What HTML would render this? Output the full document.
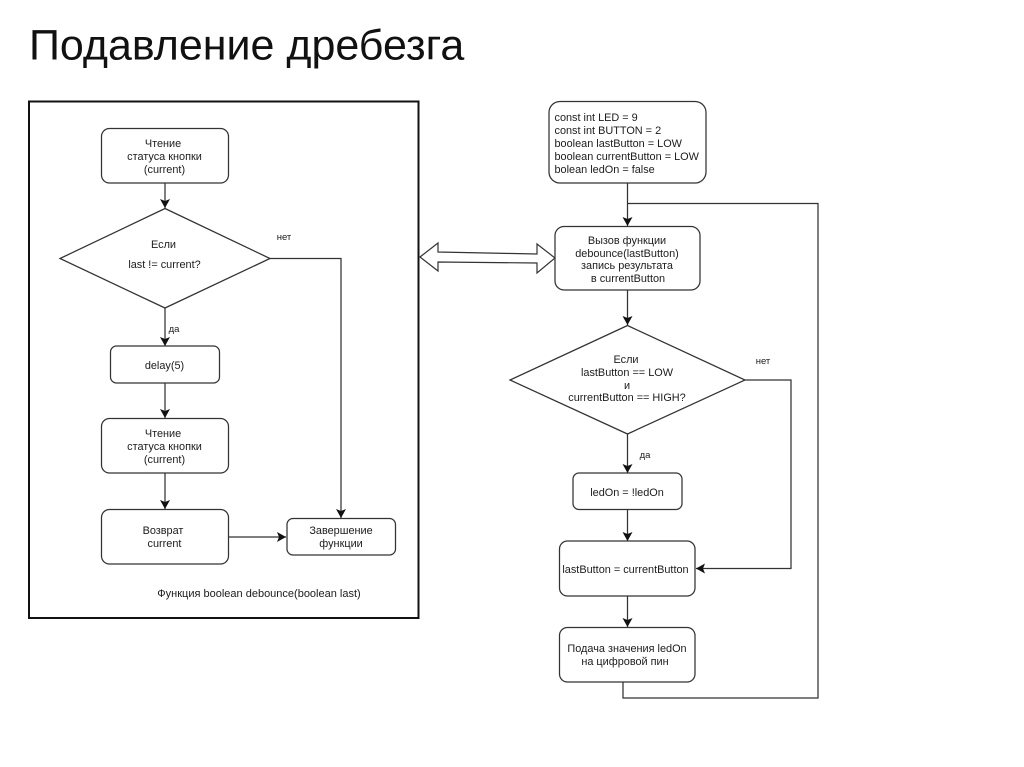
<!DOCTYPE html>
<html><head><meta charset="utf-8"><style>
html,body{margin:0;padding:0;background:#fff}
svg{display:block;filter:blur(0.35px)}
text{font-family:"Liberation Sans",sans-serif;font-size:10.9px;fill:#1c1c1c;text-anchor:middle}
.s{fill:#fff;stroke:#333;stroke-width:1.25}
.l{fill:none;stroke:#333;stroke-width:1.25}
</style></head><body>
<svg width="1024" height="767" viewBox="0 0 1024 767" xmlns="http://www.w3.org/2000/svg">
<defs><marker id="m" markerUnits="userSpaceOnUse" markerWidth="10" markerHeight="11" refX="9" refY="5.5" orient="auto"><path d="M0 0.500L9 5.500L0 10.500L2 5.500Z" fill="#111"/></marker></defs>
<rect width="1024" height="767" fill="#fff"/>
<text x="29" y="59.500" style="font-size:43px;text-anchor:start;fill:#111">Подавление дребезга</text>
<rect x="29" y="101.500" width="389.500" height="516.500" fill="#fff" stroke="#111" stroke-width="2"/>

<g class="conns">
<path class="l" marker-end="url(#m)" d="M165 183V208"/>
<path class="l" marker-end="url(#m)" d="M165 308V346"/>
<path class="l" marker-end="url(#m)" d="M165 383V418"/>
<path class="l" marker-end="url(#m)" d="M165 473V509"/>
<path class="l" marker-end="url(#m)" d="M229 537H286"/>
<path class="l" marker-end="url(#m)" d="M270 258.500H341V518"/>
<path class="l" marker-end="url(#m)" d="M627.500 183V226"/>
<path class="l" marker-end="url(#m)" d="M627.500 290V325"/>
<path class="l" marker-end="url(#m)" d="M627.500 434V473"/>
<path class="l" marker-end="url(#m)" d="M627.500 509.500V541"/>
<path class="l" marker-end="url(#m)" d="M627.500 596V627"/>
<path class="l" marker-end="url(#m)" d="M745 380H791V568.500H696"/>
<path class="l" d="M623 682V698H818V203.500H627.500"/>
</g>

<rect class="s" x="101.500" y="128.500" width="127" height="54.500" rx="8"/>
<text x="163" y="147">Чтение</text><text x="164.500" y="160">статуса кнопки</text><text x="164.500" y="173">(current)</text>
<path class="s" d="M165 208.500L270 258.500L165 308L60 258.500Z"/>
<text x="163.500" y="248">Если</text><text x="164.500" y="268">last != current?</text>
<text x="284" y="240" style="font-size:9.500px">нет</text>
<text x="174" y="332" style="font-size:9.500px">да</text>
<rect class="s" x="110.500" y="346" width="109" height="37" rx="6"/>
<text x="164.500" y="369">delay(5)</text>
<rect class="s" x="101.500" y="418.500" width="127" height="54.500" rx="8"/>
<text x="163" y="437">Чтение</text><text x="164.500" y="450">статуса кнопки</text><text x="164.500" y="463">(current)</text>
<rect class="s" x="101.500" y="509.500" width="127" height="54.500" rx="8"/>
<text x="163" y="534">Возврат</text><text x="164.500" y="547">current</text>
<rect class="s" x="287" y="518.500" width="108.500" height="36.500" rx="6"/>
<text x="341" y="534">Завершение</text><text x="341" y="547">функции</text>
<text x="259" y="597" style="font-size:11px">Функция boolean debounce(boolean last)</text>

<path d="M420 257L438 243V252L537 254V244L555 258L537 273V263L438 262V271Z" fill="#fff" stroke="#333" stroke-width="1.200"/>

<rect class="s" x="549" y="101.500" width="157" height="81.500" rx="11"/>
<text x="554.500" y="121" style="text-anchor:start">const int LED = 9</text>
<text x="554.500" y="134" style="text-anchor:start">const int BUTTON = 2</text>
<text x="554.500" y="147" style="text-anchor:start">boolean lastButton = LOW</text>
<text x="554.500" y="160" style="text-anchor:start">boolean currentButton = LOW</text>
<text x="554.500" y="173" style="text-anchor:start">bolean ledOn = false</text>
<rect class="s" x="555" y="226.500" width="145" height="63.500" rx="9"/>
<text x="627" y="244">Вызов функции</text><text x="627" y="257">debounce(lastButton)</text><text x="627" y="269">запись результата</text><text x="628" y="282">в currentButton</text>
<path class="s" d="M627.500 325.500L745 380L627.500 434L510 380Z"/>
<text x="626" y="363">Если</text><text x="627" y="376">lastButton == LOW</text><text x="627" y="389">и</text><text x="627" y="401">currentButton == HIGH?</text>
<text x="763" y="364" style="font-size:9.500px">нет</text>
<text x="645" y="458" style="font-size:9.500px">да</text>
<rect class="s" x="573" y="473" width="109" height="36.500" rx="6"/>
<text x="627" y="496">ledOn = !ledOn</text>
<rect class="s" x="559.500" y="541" width="135.500" height="55" rx="8"/>
<text x="625.500" y="573">lastButton = currentButton</text>
<rect class="s" x="559.500" y="627.500" width="135.500" height="54.500" rx="8"/>
<text x="627" y="652">Подача значения ledOn</text><text x="625" y="665">на цифровой пин</text>
</svg>
</body></html>
